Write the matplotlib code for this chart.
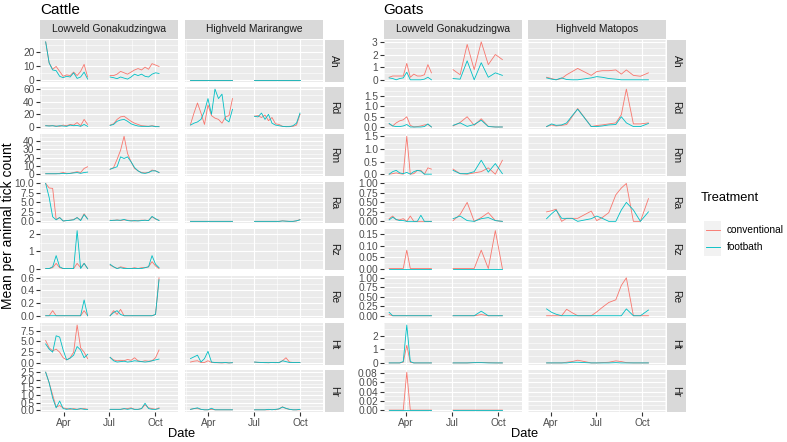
import matplotlib
matplotlib.use('Agg')
import matplotlib.pyplot as plt
import matplotlib.dates as mdates
from matplotlib.patches import Rectangle
from matplotlib.lines import Line2D
import numpy as np
import pandas as pd

plt.rcParams['font.family'] = ['Liberation Sans', 'DejaVu Sans']

W, H = 787, 442

TICK_SPECIES = ['Ah', 'Rd', 'Rm', 'Ra', 'Rz', 'Re', 'Ht', 'Hr']
TREATMENTS = ['conventional', 'footbath']
COLOURS = {'conventional': '#F8766D', 'footbath': '#00BFC4'}

# ---- cattle, Lowveld Gonakudzingwa ----
CL_DATES = [
    '2019-02-24', '2019-03-03', '2019-03-10', '2019-03-17', '2019-03-24', '2019-03-31',
    '2019-04-07', '2019-04-14', '2019-04-21', '2019-04-28', '2019-05-05', '2019-05-12',
    '2019-05-19',
    '2019-07-03', '2019-07-10', '2019-07-17', '2019-07-24', '2019-07-31', '2019-08-07',
    '2019-08-14', '2019-08-21', '2019-08-28', '2019-09-04', '2019-09-11', '2019-09-18',
    '2019-09-25', '2019-10-02', '2019-10-09',
]
CL_CONV = {
    'Ah': [27, 12, 7.5, 9.5, 6, 2.5, 3.5, 3, 5.5, 3, 6, 11, 2,
           3, 3, 4, 6, 5, 4, 5.5, 7, 8, 7, 9, 7.5, 11.5, 10.5, 9.5],
    'Rd': [2, 2, 2, 1.5, 1, 3, 2, 4, 3, 7, 2, 12, 4,
           3, 5, 12, 16, 17, 13, 9, 6, 4, 2, 1.5, 1, 2, 1, 0.5],
    'Rm': [0.5, 0.5, 0.5, 0.5, 1, 2, 1, 1, 2, 3, 2, 7, 9,
           6, 8, 18, 29, 46, 25, 15, 7, 4, 2, 1.5, 2, 5, 4, 2],
    'Ra': [10, 8.8, 8.7, 0.5, 1.0, 0.1, 0.2, 0.3, 0.5, 1.0, 0.3, 2.0, 0.7,
           0.3, 0.2, 0.4, 0.2, 0.4, 0.3, 0.2, 0.1, 0.2, 0.3, 0.3, 0.2, 1.2, 0.6, 0.3],
    'Rz': [0, 0, 0.05, 0.3, 0.05, 0, 0, 0, 0, 0.3, 0.05, 0.3, 0,
           0.2, 0.1, 0, 0.1, 0.05, 0, 0, 0.05, 0, 0.05, 0.05, 0.1, 0.4, 0.15, 0],
    'Re': [0, 0, 0.08, 0, 0, 0, 0, 0, 0, 0, 0, 0.08, 0,
           0, 0.08, 0.02, 0.1, 0, 0, 0, 0, 0, 0, 0, 0, 0, 0.02, 0.6],
    'Ht': [5.2, 3.5, 2.8, 3.2, 2.5, 1.2, 0.7, 1.2, 2.5, 8.8, 3.5, 2.5, 1.0,
           1.3, 0.7, 0.5, 0.6, 0.5, 0.8, 0.6, 1.2, 0.5, 0.3, 0.5, 0.4, 0.5, 1.2, 3.0],
    'Hr': [2.5, 1.8, 1.0, 0.2, 0.3, 0.15, 0.1, 0.05, 0.1, 0.05, 0.08, 0.1, 0.05,
           0.05, 0.05, 0.05, 0.05, 0.08, 0.1, 0.15, 0.05, 0.05, 0.1, 0.35, 0.15, 0.1, 0.05, 0.15],
}
CL_FOOT = {
    'Ah': [27, 12, 7, 6.5, 2.5, 1.5, 2.5, 2, 5, 1, 2, 5.5, 0.5,
           2, 1.5, 0.8, 2, 1.2, 0.5, 2, 4, 3, 4, 2.5, 2, 4, 5, 4.5],
    'Rd': [2, 1.5, 2, 1, 2, 1.5, 1, 3, 2, 2.5, 1, 4, 1,
           2.5, 4, 9, 11, 12, 9, 5, 3, 1.5, 1, 1, 1, 1.5, 0.5, 0.5],
    'Rm': [0.5, 0.5, 0.5, 0.5, 0.5, 1, 0.5, 1, 1.5, 2, 1, 2, 2.5,
           6, 7.5, 9, 21, 19, 21, 15, 8, 4, 1.5, 1, 2, 4, 4, 2],
    'Ra': [10, 6.3, 1.2, 0.4, 1.0, 0.1, 0.2, 0.3, 0.4, 1.0, 0.2, 1.8, 0.6,
           0.2, 0.3, 0.3, 0.3, 0.5, 0.2, 0.1, 0.2, 0.1, 0.2, 0.3, 0.2, 1.3, 0.7, 0.2],
    'Rz': [0, 0, 0.1, 0.75, 0.1, 0, 0, 0, 0, 2.2, 0, 0.3, 0,
           0.25, 0.1, 0, 0.05, 0, 0, 0, 0, 0, 0, 0.05, 0.1, 0.75, 0.25, 0.05],
    'Re': [0, 0, 0, 0, 0, 0, 0, 0, 0, 0, 0, 0.25, 0,
           0, 0.05, 0.08, 0.02, 0, 0, 0, 0, 0, 0, 0, 0, 0, 0.02, 0.57],
    'Ht': [4.4, 3.2, 2.5, 6.3, 6.0, 3.0, 0.7, 1.1, 1.8, 3.8, 3.0, 1.2, 2.0,
           1.3, 0.5, 0.2, 0.3, 0.4, 0.2, 0.3, 0.5, 0.4, 0.3, 0.2, 0.3, 0.5, 0.7, 0.9],
    'Hr': [2.5, 1.8, 0.8, 0.15, 0.6, 0.1, 0.05, 0.1, 0.05, 0.05, 0.1, 0.05, 0.05,
           0.05, 0.05, 0.05, 0.05, 0.1, 0.05, 0.1, 0.05, 0.05, 0.1, 0.45, 0.1, 0.05, 0.05, 0.1],
}

# ---- cattle, Highveld Marirangwe ----
CH_DATES = [
    '2019-02-24', '2019-03-03', '2019-03-10', '2019-03-17', '2019-03-24', '2019-03-31',
    '2019-04-07', '2019-04-14', '2019-04-21', '2019-04-28', '2019-05-05', '2019-05-12',
    '2019-05-19',
    '2019-07-02', '2019-07-09', '2019-07-16', '2019-07-23', '2019-07-30', '2019-08-06',
    '2019-08-13', '2019-08-20', '2019-08-27', '2019-09-03', '2019-09-10', '2019-09-17',
    '2019-09-24', '2019-10-01',
]
CH_CONV = {
    'Ah': [0, 0, 0, 0, 0, 0, 0, 0, 0, 0, 0, 0, 0,
           0, 0, 0, 0, 0, 0, 0, 0, 0, 0, 0, 0, 0, 0],
    'Rd': [4, 22, 38, 22, 4, 35, 18, 14, 12, 6, 16, 18, 45,
           17, 18, 15, 19, 10, 15, 5, 4, 1, 0.5, 1, 1, 3, 20],
    'Ra': [0, 0, 0, 0, 0, 0, 0, 0, 0, 0, 0, 0, 0,
           0, 0, 0, 0, 0, 0, 0, 0, 0.15, 0.05, 0, 0, 0.1, 0.5],
    'Ht': [0.2, 0.4, 0.5, 0.1, 0.1, 0.5, 0.1, 0.05, 0.05, 0, 0.05, 0, 0.05,
           0.2, 0.1, 0.1, 0.05, 0.05, 0.1, 0.05, 0.1, 0.5, 1.2, 0.2, 0.1, 0.1, 0.1],
    'Hr': [0.05, 0.1, 0.1, 0.05, 0.02, 0.02, 0.05, 0.02, 0.02, 0.02, 0.02, 0.02, 0.02,
           0.02, 0.02, 0.02, 0.02, 0.02, 0.05, 0.02, 0.08, 0.22, 0.1, 0.05, 0.02, 0.02, 0.02],
}
CH_FOOT = {
    'Ah': [0, 0, 0, 0, 0, 0, 0, 0, 0, 0, 0, 0, 0,
           0, 0, 0, 0, 0, 0, 0, 0, 0, 0, 0, 0, 0, 0],
    'Rd': [3, 6, 8, 12, 25, 45, 20, 60, 45, 52, 12, 8, 28,
           17, 16, 22, 12, 20, 6, 3, 2, 1, 0.5, 0.5, 2, 6, 22],
    'Ra': [0, 0, 0, 0, 0, 0, 0, 0, 0, 0, 0, 0, 0,
           0, 0, 0, 0, 0, 0, 0, 0, 0.1, 0.05, 0, 0, 0.15, 0.4],
    'Ht': [1.0, 1.4, 1.8, 0.2, 1.0, 2.7, 0.2, 0.1, 0.05, 0.05, 0.1, 0, 0.05,
           0.2, 0.15, 0.1, 0.1, 0.05, 0.1, 0.1, 0.05, 0.5, 0.3, 0.1, 0.1, 0.1, 0.1],
    'Hr': [0.05, 0.1, 0.15, 0.05, 0.02, 0.02, 0.12, 0.02, 0.02, 0.02, 0.02, 0.02, 0.02,
           0.02, 0.02, 0.02, 0.02, 0.05, 0.02, 0.05, 0.08, 0.2, 0.12, 0.05, 0.02, 0.02, 0.05],
}

# ---- goats, Lowveld Gonakudzingwa ----
GL_DATES = [
    '2019-02-26', '2019-03-05', '2019-03-12', '2019-03-19', '2019-03-26', '2019-04-02',
    '2019-04-09', '2019-04-16', '2019-04-23', '2019-04-30', '2019-05-07', '2019-05-14',
    '2019-05-21',
    '2019-07-03', '2019-07-17', '2019-07-31', '2019-08-14', '2019-08-28', '2019-09-11',
    '2019-09-25', '2019-10-09',
]
GL_CONV = {
    'Ah': [0.2, 0.3, 0.3, 0.3, 0.3, 1.3, 0.2, 0.45, 0.3, 0.3, 0.4, 1.2, 0.55,
           0.8, 0.4, 2.8, 0.8, 3.0, 1.2, 2.0, 1.6],
    'Rd': [0.15, 0.05, 0.2, 0.3, 0.35, 0.5, 0.08, 0.0, 0.02, 0.05, 0.1, 0.12, 0.0,
           0.05, 0.22, 0.5, 0.08, 0.4, 0.03, 0.0, 0.0],
    'Rm': [0.0, 0.02, 0.05, 0.02, 0.0, 1.5, 0.0, 0.02, 0.15, 0.15, 0.0, 0.25, 0.2,
           0.2, 0.02, 0.0, 0.05, 0.1, 0.25, 0.0, 0.55],
    'Ra': [0.07, 0.14, 0.04, 0.04, 0.07, 0.0, 0.14, 0.0, 0.0, 0.0, 0.0, 0.0, 0.0,
           0.02, 0.18, 0.5, 0.0, 0.1, 0.23, 0.02, 0.0],
    'Rz': [0, 0, 0, 0, 0, 0.08, 0, 0, 0, 0, 0, 0, 0,
           0, 0, 0, 0, 0.08, 0, 0.165, 0],
    'Re': [0.03, 0, 0, 0, 0, 0, 0, 0, 0, 0, 0, 0, 0,
           0, 0, 0, 0, 0.03, 0, 0, 0],
    'Ht': [0, 0, 0, 0, 0.05, 1.3, 0.05, 0, 0, 0, 0, 0, 0,
           0, 0, 0, 0.02, 0.03, 0.02, 0, 0],
    'Hr': [0, 0, 0, 0, 0, 0.082, 0, 0, 0, 0, 0, 0, 0,
           0, 0, 0, 0, 0, 0, 0, 0],
}
GL_FOOT = {
    'Ah': [0.15, 0.1, 0.0, 0.1, 0.15, 0.6, 0.0, 0.0, 0.0, 0.0, 0.05, 0.2, 0.0,
           0.1, 0.05, 1.5, 0.0, 1.35, 0.2, 0.55, 0.35],
    'Rd': [0.17, 0.05, 0.02, 0.02, 0.05, 0.12, 0.0, 0.0, 0.0, 0.0, 0.02, 0.15, 0.0,
           0.08, 0.2, 0.03, 0.12, 0.33, 0.02, 0.0, 0.0],
    'Rm': [0.0, 0.1, 0.15, 0.05, 0.02, 0.07, 0.0, 0.1, 0.15, 0.12, 0.0, 0.0, 0.0,
           0.15, 0.02, 0.02, 0.1, 0.55, 0.08, 0.42, 0.02],
    'Ra': [0.04, 0.11, 0.05, 0.02, 0.02, 0.0, 0.0, 0.0, 0.0, 0.16, 0.0, 0.0, 0.0,
           0.07, 0.14, 0.02, 0.0, 0.07, 0.1, 0.02, 0.0],
    'Rz': [0, 0, 0, 0, 0, 0, 0, 0, 0, 0, 0, 0, 0,
           0, 0, 0, 0, 0, 0, 0, 0],
    'Re': [0.09, 0, 0, 0, 0, 0, 0, 0, 0, 0, 0, 0, 0,
           0, 0, 0, 0, 0.12, 0, 0, 0],
    'Ht': [0, 0, 0, 0, 0.1, 2.8, 0.1, 0, 0, 0, 0, 0, 0,
           0, 0, 0, 0.02, 0.02, 0, 0, 0],
    'Hr': [0, 0, 0, 0, 0, 0, 0, 0, 0, 0, 0, 0, 0,
           0, 0, 0, 0, 0, 0, 0, 0],
}

# ---- goats, Highveld Matopos ----
GH_DATES = [
    '2019-03-24', '2019-04-03', '2019-04-12', '2019-04-23', '2019-05-03', '2019-05-14',
    '2019-05-25',
    '2019-06-21', '2019-07-02', '2019-07-13', '2019-07-26', '2019-08-09', '2019-08-20',
    '2019-08-30', '2019-09-13', '2019-09-27', '2019-10-13',
]
GH_CONV = {
    'Ah': [0.2, 0.1, 0.0, 0.1, 0.4, 0.65, 0.9,
           0.35, 0.65, 0.72, 0.72, 0.78, 0.45, 0.78, 0.35, 0.28, 0.55],
    'Rd': [0.02, 0.1, 0.05, 0.08, 0.12, 0.5, 0.9,
           0.02, 0.07, 0.1, 0.15, 0.2, 0.6, 1.85, 0.15, 0.15, 0.2],
    'Ra': [0.25, 0.28, 0.32, 0.0, 0.08, 0.08, 0.08,
           0.27, 0.02, 0.1, 0.23, 0.7, 0.88, 1.0, 0.0, 0.0, 0.6],
    'Re': [0.0, 0.0, 0.0, 0.0, 0.17, 0.08, 0.0,
           0.0, 0.1, 0.22, 0.35, 0.42, 0.8, 1.0, 0.0, 0.0, 0.0],
    'Ht': [0, 0, 0, 0, 0.05, 0.1, 0.2,
           0, 0, 0.02, 0.05, 0.15, 0.1, 0.02, 0, 0, 0],
}
GH_FOOT = {
    'Ah': [0.15, 0.05, 0.0, 0.15, 0.02, 0.0, 0.0,
           0.15, 0.25, 0.2, 0.1, 0.05, 0.0, 0.0, 0.0, 0.0, 0.0],
    'Rd': [0.02, 0.15, 0.08, 0.1, 0.2, 0.55, 0.87,
           0.02, 0.02, 0.05, 0.1, 0.12, 0.5, 0.2, 0.02, 0.02, 0.17],
    'Ra': [0.07, 0.2, 0.3, 0.08, 0.08, 0.08, 0.0,
           0.07, 0.14, 0.08, 0.0, 0.0, 0.3, 0.5, 0.3, 0.0, 0.25],
    'Re': [0.18, 0.09, 0.04, 0.0, 0.0, 0.0, 0.0,
           0, 0, 0, 0, 0, 0, 0.18, 0, 0, 0.15],
    'Ht': [0, 0, 0, 0, 0, 0.05, 0.05,
           0, 0, 0, 0, 0.02, 0, 0, 0, 0, 0],
}

CATTLE_YTICKS = {
    'Ah': ['0', '10', '20'],
    'Rd': ['0', '20', '40', '60'],
    'Rm': ['0', '10', '20', '30', '40'],
    'Ra': ['0.0', '2.5', '5.0', '7.5', '10.0'],
    'Rz': ['0', '1', '2'],
    'Re': ['0.0', '0.2', '0.4', '0.6'],
    'Ht': ['0.0', '2.5', '5.0', '7.5'],
    'Hr': ['0.0', '0.5', '1.0', '1.5', '2.0', '2.5'],
}
GOATS_YTICKS = {
    'Ah': ['0', '1', '2', '3'],
    'Rd': ['0.0', '0.5', '1.0', '1.5'],
    'Rm': ['0.0', '0.5', '1.0', '1.5'],
    'Ra': ['0.00', '0.25', '0.50', '0.75', '1.00'],
    'Rz': ['0.00', '0.05', '0.10', '0.15'],
    'Re': ['0.00', '0.25', '0.50', '0.75', '1.00'],
    'Ht': ['0', '1', '2'],
    'Hr': ['0.00', '0.02', '0.04', '0.06', '0.08'],
}

X_BREAKS = ['2019-04-01', '2019-07-01', '2019-10-01']
X_LABELS = ['Apr', 'Jul', 'Oct']
X_ALL_BREAKS = ['2019-01-01', '2019-04-01', '2019-07-01', '2019-10-01', '2020-01-01']

PANEL_BG = '#EBEBEB'
STRIP_BG = '#D9D9D9'
AXIS_TEXT = '#4D4D4D'
TICK_COL = '#333333'
FS_TICK = 7.3
FS_STRIP = 7.4
FS_TITLE = 9.3

ROW_TOP, ROW_BOTTOM, ROW_GAP = 40.0, 412.0, 5.5
ROW_H = (ROW_BOTTOM - ROW_TOP - 7 * ROW_GAP) / 8


def px_axes(fig, x0, y0, x1, y1):
    return fig.add_axes([x0 / W, 1 - y1 / H, (x1 - x0) / W, (y1 - y0) / H])


def to_num(dates):
    return mdates.date2num(pd.to_datetime(dates).to_pydatetime())


def broken(x, y):
    # break the line across the mid-year gap in sampling
    x = np.asarray(x, float)
    y = np.asarray(y, float)
    xs, ys = [x[0]], [y[0]]
    for i in range(1, len(x)):
        if x[i] - x[i - 1] > 30:
            xs.append(np.nan)
            ys.append(np.nan)
        xs.append(x[i])
        ys.append(y[i])
    return np.array(xs), np.array(ys)


def draw_species(fig, title, cols, yticks, col_px, strip_px):
    xlims = []
    for _, dates, _, _ in cols:
        xn = to_num(dates)
        span = xn.max() - xn.min()
        xlims.append((xn.min() - 0.05 * span, xn.max() + 0.05 * span))

    major_x = to_num(X_BREAKS)
    all_b = to_num(X_ALL_BREAKS)
    minor_x = (all_b[:-1] + all_b[1:]) / 2

    for r, tick in enumerate(TICK_SPECIES):
        y0 = ROW_TOP + r * (ROW_H + ROW_GAP)
        y1 = y0 + ROW_H

        m = 0.0
        for _, _, conv, foot in cols:
            for d in (conv, foot):
                if tick in d:
                    m = max(m, max(d[tick]))
        ylim = (-0.05 * m, 1.05 * m)
        labels = yticks[tick]
        vals = np.array([float(v) for v in labels])
        step = vals[1] - vals[0]
        minor_y = np.append(vals - step / 2, vals[-1] + step / 2)
        minor_y = minor_y[(minor_y > ylim[0]) & (minor_y < ylim[1])]

        for c, (name, dates, conv, foot) in enumerate(cols):
            ax = px_axes(fig, col_px[c][0], y0, col_px[c][1], y1)
            ax.set_facecolor(PANEL_BG)
            for s in ax.spines.values():
                s.set_visible(False)
            ax.set_axisbelow(True)
            ax.set_xlim(*xlims[c])
            ax.set_ylim(*ylim)
            ax.set_xticks(major_x)
            ax.set_xticks(minor_x, minor=True)
            ax.set_yticks(vals)
            ax.set_yticks(minor_y, minor=True)
            ax.grid(which='major', color='white', linewidth=0.8)
            ax.grid(which='minor', color='white', linewidth=0.4)
            ax.tick_params(which='minor', length=0)
            ax.tick_params(which='major', length=2.6, width=0.8, color=TICK_COL,
                           labelsize=FS_TICK, labelcolor=AXIS_TEXT, pad=1.5)

            if c == 0:
                ax.set_yticklabels(labels)
            else:
                ax.tick_params(axis='y', left=False, labelleft=False)
            if r == len(TICK_SPECIES) - 1:
                ax.set_xticklabels(X_LABELS)
            else:
                ax.tick_params(axis='x', bottom=False, labelbottom=False)

            xn = to_num(dates)
            for trt, d in zip(TREATMENTS, (conv, foot)):
                if tick not in d:
                    continue
                bx, by = broken(xn, d[tick])
                ax.plot(bx, by, color=COLOURS[trt], linewidth=0.6)

            if r == 0:
                sax = px_axes(fig, col_px[c][0], 20, col_px[c][1], 39)
                sax.set_facecolor(STRIP_BG)
                sax.set_xticks([])
                sax.set_yticks([])
                for s in sax.spines.values():
                    s.set_visible(False)
                sax.text(0.5, 0.5, name, ha='center', va='center',
                         fontsize=FS_STRIP, color='#1A1A1A',
                         transform=sax.transAxes)

        rax = px_axes(fig, strip_px[0], y0, strip_px[1], y1)
        rax.set_facecolor(STRIP_BG)
        rax.set_xticks([])
        rax.set_yticks([])
        for s in rax.spines.values():
            s.set_visible(False)
        rax.text(0.5, 0.5, tick, ha='center', va='center', rotation=-90,
                 fontsize=FS_STRIP, color='#1A1A1A', transform=rax.transAxes)

    fig.text(col_px[0][0] / W, 1 - 9.5 / H, title, ha='left', va='center',
             fontsize=11)
    xc = (col_px[0][0] + col_px[1][1]) / 2
    fig.text(xc / W, 1 - 434 / H, 'Date', ha='center', va='center',
             fontsize=FS_TITLE)


def main():
    fig = plt.figure(figsize=(W / 100, H / 100), dpi=100)
    fig.patch.set_facecolor('white')

    cattle_cols = [
        ('Lowveld Gonakudzingwa', CL_DATES, CL_CONV, CL_FOOT),
        ('Highveld Marirangwe', CH_DATES, CH_CONV, CH_FOOT),
    ]
    goats_cols = [
        ('Lowveld Gonakudzingwa', GL_DATES, GL_CONV, GL_FOOT),
        ('Highveld Matopos', GH_DATES, GH_CONV, GH_FOOT),
    ]
    draw_species(fig, 'Cattle', cattle_cols, CATTLE_YTICKS,
                 [(40, 178), (185, 323)], (324.5, 343.5))
    draw_species(fig, 'Goats', goats_cols, GOATS_YTICKS,
                 [(383.5, 521.5), (528, 665.5)], (667, 686))

    fig.text(8 / W, 1 - 226 / H, 'Mean per animal tick count', rotation=90,
             ha='center', va='center', fontsize=10)

    # legend drawn by hand to get the grey ggplot key boxes
    fig.text(701 / W, 1 - 198 / H, 'Treatment', ha='left', va='center',
             fontsize=FS_TITLE)
    for i, trt in enumerate(TREATMENTS):
        ky0 = 221 + i * 17.3
        fig.patches.append(Rectangle((704 / W, 1 - (ky0 + 17.3) / H), 17.3 / W, 17.3 / H,
                                     transform=fig.transFigure, facecolor='#F2F2F2',
                                     edgecolor='none'))
        yc = 1 - (ky0 + 8.65) / H
        fig.lines.append(Line2D([706 / W, 719.5 / W], [yc, yc], transform=fig.transFigure,
                                color=COLOURS[trt], linewidth=0.65))
        fig.text(727 / W, yc, trt, ha='left', va='center', fontsize=FS_TICK,
                 color='#000000')

    fig.savefig('out.png', dpi=100)


if __name__ == '__main__':
    main()
